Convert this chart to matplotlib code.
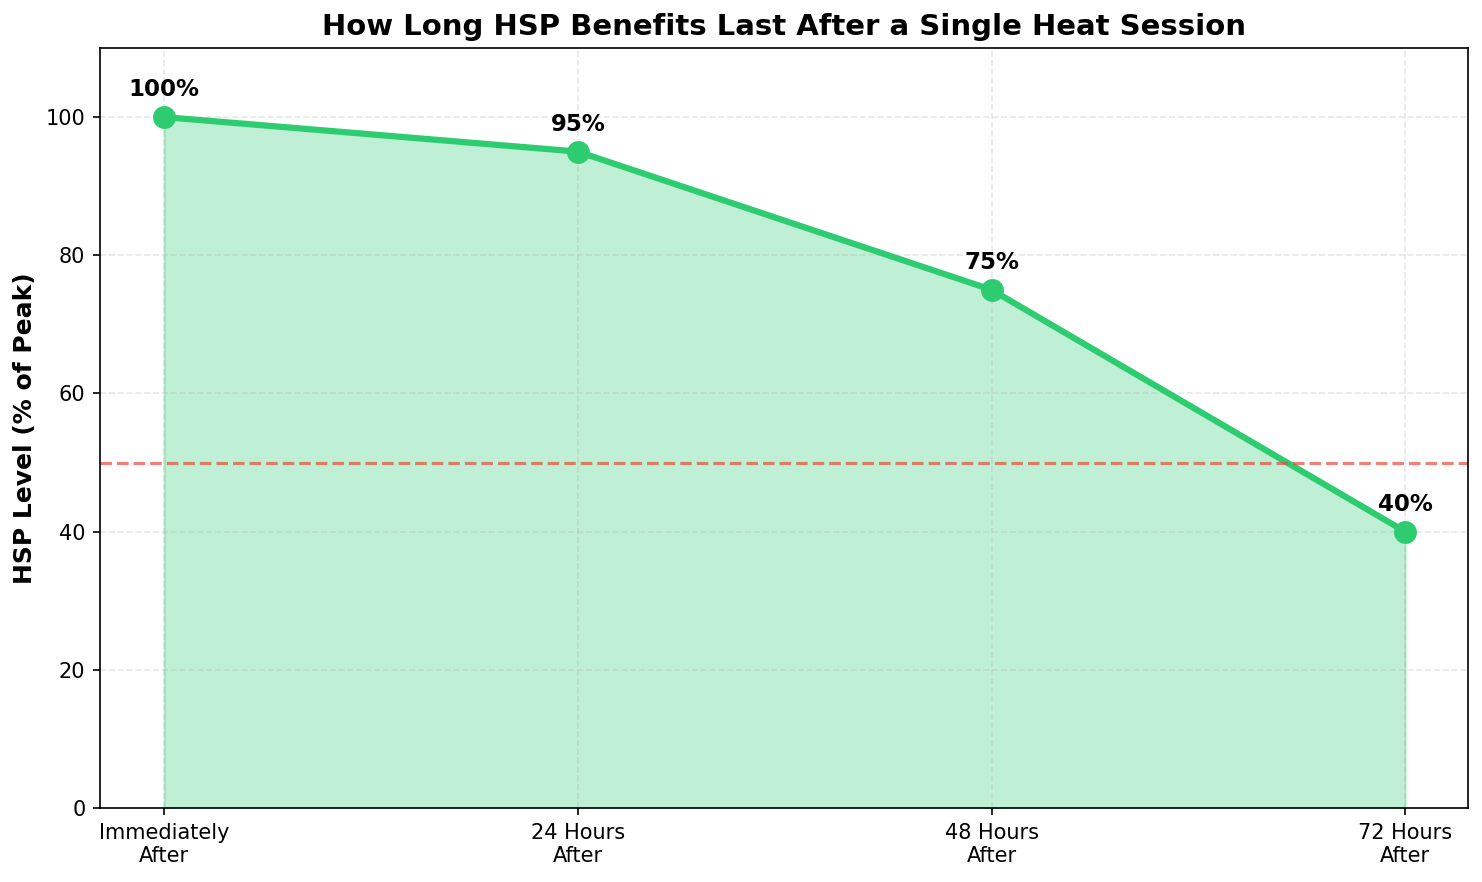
import matplotlib
matplotlib.use("Agg")
import matplotlib.pyplot as plt

categories = ["Immediately\nAfter", "24 Hours\nAfter", "48 Hours\nAfter", "72 Hours\nAfter"]
hsp_levels = [100, 95, 75, 40]
threshold = 50

fig = plt.figure(figsize=(9.88, 5.88), dpi=150)
ax = fig.add_axes([0.0675, 0.0839, 0.9231, 0.8617])
x = list(range(len(categories)))
ax.fill_between(x, hsp_levels, color="#2ecc71", alpha=0.3)
ax.plot(x, hsp_levels, color="#2ecc71", linewidth=3, marker="o", markersize=10)
ax.axhline(threshold, color="#e74c3c", linestyle="--", alpha=0.7, linewidth=1.5)
for xi, v in zip(x, hsp_levels):
    ax.annotate(f"{v}%", (xi, v), textcoords="offset points", xytext=(0, 10),
                ha="center", fontsize=11, fontweight="bold")
ax.set_xticks(x)
ax.set_xticklabels(categories, fontsize=10)
ax.set_xlim(-0.155, 3.152)
ax.set_ylim(0, 110)
ax.set_ylabel("HSP Level (% of Peak)", fontsize=12, fontweight="bold")
ax.set_title("How Long HSP Benefits Last After a Single Heat Session", fontsize=14, fontweight="bold")
ax.grid(True, linestyle="--", alpha=0.3)
fig.savefig("out.png", dpi=150)
